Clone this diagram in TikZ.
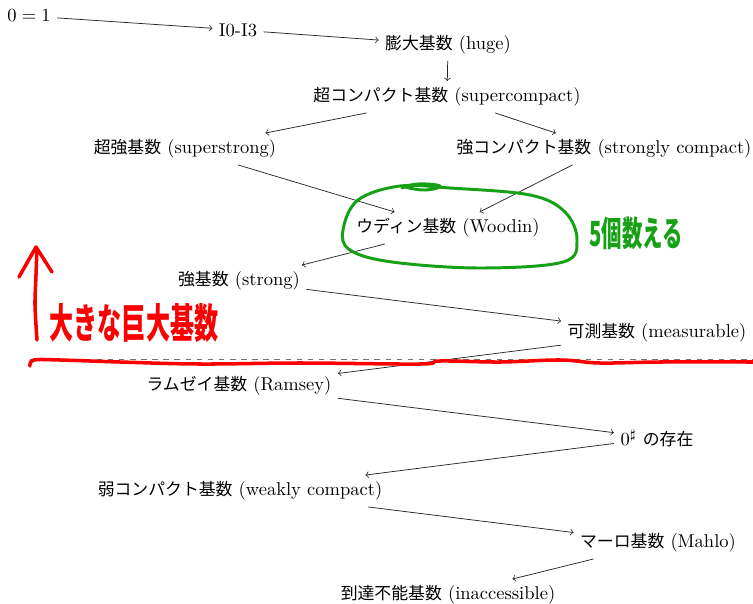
\documentclass[tikz,border=0pt]{standalone}
\usepackage{fontspec}
\newfontfamily\cjk[Scale=0.91]{Noto Sans CJK JP}
\newfontfamily\hand{Noto Sans CJK JP}
\definecolor{handgreen}{RGB}{22,160,22}
\definecolor{handred}{RGB}{250,0,0}
\begin{document}
\begin{tikzpicture}[x=0.54pt,y=-0.54pt,
  lbl/.style={font=\fontsize{10}{12}\selectfont},
  arr/.style={->, draw=black!85, line width=0.4pt},
  greenpen/.style={draw=handgreen, line width=1.6pt, line cap=round, line join=round},
  redpen/.style={draw=handred, line width=1.9pt, line cap=round, line join=round}]
\useasboundingbox (0,0) rectangle (753,604);
% nodes
\node[lbl] (zero) at (29,16) {$0=1$};
\node[lbl] (iot) at (238,30) {I0-I3};
\node[lbl] (huge) at (448,45) {{\cjk 膨大基数} (huge)};
\node[lbl] (sc) at (447,97) {{\cjk 超コンパクト基数} (supercompact)};
\node[lbl] (ss) at (185,149) {{\cjk 超強基数} (superstrong)};
\node[lbl] (stc) at (604,149) {{\cjk 強コンパクト基数} (strongly compact)};
\node[lbl] (wood) at (448,228) {{\cjk ウディン基数} (Woodin)};
\node[lbl] (strong) at (239,281) {{\cjk 強基数} (strong)};
\node[lbl] (meas) at (657,333) {{\cjk 可測基数} (measurable)};
\node[lbl] (ram) at (239,386) {{\cjk ラムゼイ基数} (Ramsey)};
\node[lbl] (zsharp) at (657,438) {$0^\sharp$ {\cjk の存在}};
\node[lbl] (wc) at (240,491) {{\cjk 弱コンパクト基数} (weakly compact)};
\node[lbl] (mahlo) at (658,543) {{\cjk マーロ基数} (Mahlo)};
\node[lbl] (inacc) at (448,595) {{\cjk 到達不能基数} (inaccessible)};
% arrows
\draw[arr] (zero) -- (iot);
\draw[arr] (iot) -- (huge);
\draw[arr] (huge) -- (sc);
\draw[arr] (sc) -- (ss);
\draw[arr] (sc) -- (stc);
\draw[arr] (ss) -- (wood);
\draw[arr] (stc) -- (wood);
\draw[arr] (wood) -- (strong);
\draw[arr] (strong) -- (meas);
\draw[arr] (meas) -- (ram);
\draw[arr] (ram) -- (zsharp);
\draw[arr] (zsharp) -- (wc);
\draw[arr] (wc) -- (mahlo);
\draw[arr] (mahlo) -- (inacc);
% dashed separator
\coordinate (dl) at (30,359);
\coordinate (dr) at (753,359);
\draw[dashed, draw=black!55, line width=0.5pt] (dl) -- (dr);
% green handwriting
\draw[greenpen] plot[smooth cycle, tension=0.6] coordinates {(400,186) (450,188) (530,195) (565,212) (577,240) (563,262) (480,268) (392,262) (350,250) (343,230) (358,200)};
\draw[greenpen] plot[smooth, tension=0.8] coordinates {(402,188) (418,184) (440,186) (425,190) (405,187)};
\node[text=handgreen, font=\hand\bfseries\fontsize{11}{13}\selectfont, inner sep=0pt] (gtxt) at (636,233) {\scalebox{1}[1.7]{5個数える}};
% red handwriting
\draw[redpen] plot[smooth, tension=0.6] coordinates {(30,366) (34,360) (60,360) (120,362) (200,364) (300,363) (420,364) (440,361) (500,362) (560,360) (600,363) (660,362) (753,362)};
\draw[redpen] plot[smooth, tension=0.5] coordinates {(37,340) (35,305) (36,275) (37,248)};
\draw[redpen] (19,277) -- (36,247) -- (52,272);
\node[text=handred, font=\hand\bfseries\fontsize{13}{15}\selectfont, inner sep=0pt] (rtxt) at (134,323) {\scalebox{1}[1.7]{大きな巨大基数}};
\end{tikzpicture}
\end{document}
